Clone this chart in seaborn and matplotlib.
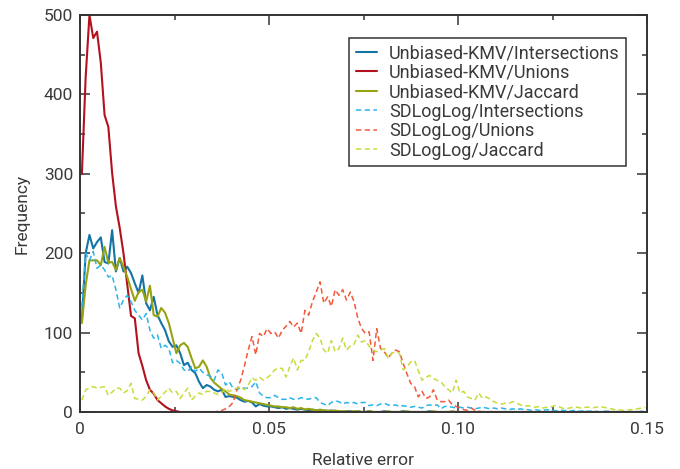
import matplotlib
matplotlib.use("Agg")
import matplotlib.pyplot as plt
from matplotlib.ticker import MultipleLocator, FixedLocator, FixedFormatter
import numpy as np
import pandas as pd
import seaborn as sns

# Histogram bin centres: 150 bins of width 0.001 over [0, 0.15]
bin_width = 0.001
n_bins = 150

kmv_intersections = [
    116, 200, 223, 206, 214, 220, 189, 187, 229, 177,
    194, 177, 183, 175, 162, 150, 172, 137, 128, 145,
    122, 112, 103, 89, 82, 84, 74, 59, 62, 53,
    49, 38, 30, 34, 32, 28, 26, 28, 19, 20,
    19, 18, 15, 13, 14, 12, 7, 10, 8, 7,
    7, 6, 5, 6, 4, 5, 4, 3, 4, 3,
    2, 3, 2, 1, 2, 1, 2, 1, 1, 0,
    1, 1, 0, 1, 0, 0, 1, 0, 0, 0,
    1, 0, 0, 0, 0, 1, 0, 0, 0, 0,
    0, 0, 1, 0, 0, 0, 0, 0, 0, 0,
    0, 0, 0, 0, 0, 0, 0, 0, 0, 0,
    0, 0, 0, 0, 0, 0, 0, 0, 0, 0,
    0, 0, 0, 0, 0, 0, 0, 0, 0, 0,
    0, 0, 0, 0, 0, 0, 0, 0, 0, 0,
    0, 0, 0, 0, 0, 0, 0, 0, 0, 0,
]

kmv_unions = [
    300, 422, 500, 471, 479, 440, 374, 359, 301, 259,
    232, 200, 160, 121, 118, 74, 58, 40, 28, 23,
    15, 11, 7, 4, 2, 1, 0, 0, 0, 0,
    0, 0, 0, 0, 0, 0, 0, 0, 0, 0,
    0, 0, 0, 0, 0, 0, 0, 0, 0, 0,
    0, 0, 0, 0, 0, 0, 0, 0, 0, 0,
    0, 0, 0, 0, 0, 0, 0, 0, 0, 0,
    0, 0, 0, 0, 0, 0, 0, 0, 0, 0,
    0, 0, 0, 0, 0, 0, 0, 0, 0, 0,
    0, 0, 0, 0, 0, 0, 0, 0, 0, 0,
    0, 0, 0, 0, 0, 0, 0, 0, 0, 0,
    0, 0, 0, 0, 0, 0, 0, 0, 0, 0,
    0, 0, 0, 0, 0, 0, 0, 0, 0, 0,
    0, 0, 0, 0, 0, 0, 0, 0, 0, 0,
    0, 0, 0, 0, 0, 0, 0, 0, 0, 0,
]

kmv_jaccard = [
    112, 160, 191, 191, 191, 185, 208, 188, 189, 179,
    194, 183, 170, 155, 140, 151, 154, 139, 159, 122,
    120, 131, 125, 112, 93, 74, 84, 87, 82, 68,
    55, 57, 65, 57, 43, 37, 33, 29, 26, 22,
    21, 20, 18, 15, 14, 13, 12, 11, 10, 9,
    8, 7, 7, 6, 6, 5, 6, 4, 5, 3,
    4, 3, 2, 3, 2, 2, 1, 2, 1, 1,
    1, 0, 1, 1, 0, 0, 1, 0, 0, 0,
    0, 1, 0, 0, 0, 0, 1, 0, 0, 0,
    0, 0, 0, 1, 0, 0, 0, 0, 1, 0,
    0, 0, 0, 0, 0, 0, 0, 0, 0, 0,
    0, 0, 0, 0, 0, 0, 0, 0, 0, 0,
    0, 0, 0, 0, 0, 1, 0, 0, 0, 0,
    0, 0, 0, 0, 0, 0, 0, 0, 0, 0,
    0, 0, 0, 0, 0, 0, 0, 0, 0, 0,
]

sdll_intersections = [
    133, 200, 191, 202, 181, 185, 179, 170, 172, 154,
    131, 141, 147, 139, 128, 122, 116, 124, 103, 93,
    97, 80, 84, 80, 62, 65, 61, 53, 51, 57,
    51, 55, 50, 47, 45, 40, 53, 49, 34, 38,
    30, 28, 31, 30, 30, 32, 38, 24, 20, 18,
    18, 21, 18, 16, 16, 18, 16, 16, 18, 17,
    16, 18, 18, 12, 10, 8, 12, 14, 13, 10,
    12, 11, 12, 10, 12, 12, 8, 9, 8, 10,
    11, 9, 8, 9, 7, 8, 7, 6, 7, 6,
    5, 8, 9, 8, 9, 4, 7, 7, 6, 5,
    6, 5, 6, 5, 4, 5, 6, 5, 4, 5,
    4, 5, 4, 3, 4, 3, 4, 3, 3, 2,
    3, 2, 2, 3, 2, 2, 1, 2, 2, 1,
    2, 1, 1, 2, 1, 1, 1, 0, 1, 1,
    1, 0, 1, 1, 0, 1, 0, 0, 1, 0,
]

sdll_unions = [
    0, 0, 0, 0, 0, 0, 0, 0, 0, 0,
    0, 0, 0, 0, 0, 0, 0, 0, 0, 0,
    0, 0, 0, 0, 0, 0, 0, 0, 0, 0,
    0, 0, 0, 0, 0, 0, 1, 2, 4, 7,
    12, 28, 40, 58, 78, 95, 72, 99, 95, 105,
    99, 101, 93, 103, 108, 114, 107, 112, 99, 128,
    122, 139, 151, 164, 137, 145, 133, 154, 147, 154,
    141, 151, 139, 118, 105, 99, 101, 65, 105, 80,
    76, 68, 74, 78, 76, 61, 48, 36, 32, 19,
    26, 17, 19, 28, 15, 13, 13, 15, 9, 7,
    5, 3, 2, 5, 2, 1, 0, 0, 0, 0,
    0, 0, 0, 0, 0, 0, 0, 0, 0, 0,
    0, 0, 0, 0, 0, 0, 0, 0, 0, 0,
    0, 0, 0, 0, 0, 0, 0, 0, 0, 0,
    0, 0, 0, 0, 0, 0, 0, 0, 0, 0,
]

sdll_jaccard = [
    15, 28, 30, 32, 30, 31, 32, 21, 25, 30,
    30, 24, 27, 36, 17, 16, 15, 20, 28, 24,
    15, 20, 25, 30, 24, 26, 17, 24, 30, 15,
    20, 24, 22, 26, 26, 24, 22, 24, 30, 26,
    28, 30, 32, 28, 34, 43, 40, 44, 40, 43,
    47, 53, 55, 55, 44, 57, 68, 53, 65, 65,
    76, 90, 99, 93, 78, 74, 90, 76, 80, 93,
    78, 83, 85, 97, 88, 90, 83, 78, 76, 78,
    80, 68, 74, 76, 74, 53, 57, 63, 65, 52,
    40, 44, 46, 42, 40, 38, 32, 28, 24, 40,
    24, 26, 19, 17, 15, 24, 17, 19, 16, 13,
    11, 10, 11, 11, 13, 11, 9, 7, 8, 7,
    6, 7, 5, 6, 6, 8, 7, 5, 4, 5,
    6, 6, 5, 6, 6, 5, 6, 7, 6, 5,
    4, 3, 3, 2, 2, 3, 3, 4, 5, 6,
]

series_names = [
    "Unbiased-KMV/Intersections",
    "Unbiased-KMV/Unions",
    "Unbiased-KMV/Jaccard",
    "SDLogLog/Intersections",
    "SDLogLog/Unions",
    "SDLogLog/Jaccard",
]
series_values = [
    kmv_intersections, kmv_unions, kmv_jaccard,
    sdll_intersections, sdll_unions, sdll_jaccard,
]
series_colors = ["#1474a6", "#b3111d", "#97a312", "#2ab4ea", "#f2583a", "#c9db3a"]
series_solid = [True, True, True, False, False, False]

x_tick_values = [0, 0.05, 0.10, 0.15]
x_tick_labels = ["0", "0.05", "0.10", "0.15"]

bin_centres = (np.arange(n_bins) + 0.5) * bin_width

sns.set_style("ticks")
plt.rcParams["font.family"] = ["Roboto", "DejaVu Sans"]
text_color = "#3a3a3a"

fig = plt.figure(figsize=(6.8, 4.69), dpi=100)
ax = fig.add_axes([80 / 680, 1 - 412 / 469, 567 / 680, 397 / 469])

for name, vals, col, solid in zip(series_names, series_values, series_colors, series_solid):
    df = pd.DataFrame({"err": bin_centres, "freq": vals})
    if solid:
        sns.lineplot(data=df, x="err", y="freq", ax=ax, color=col, lw=1.5,
                     label=name, linestyle="-")
    else:
        sns.lineplot(data=df, x="err", y="freq", ax=ax, color=col, lw=1.1,
                     label=name, linestyle=(0, (3.5, 2.2)))

ax.set_xlim(0, 0.15)
ax.set_ylim(0, 500)
ax.xaxis.set_major_locator(FixedLocator(x_tick_values))
ax.xaxis.set_major_formatter(FixedFormatter(x_tick_labels))
ax.xaxis.set_minor_locator(MultipleLocator(0.025))
ax.yaxis.set_major_locator(MultipleLocator(100))
ax.yaxis.set_minor_locator(MultipleLocator(50))

ax.tick_params(which="both", direction="in", top=True, right=True,
               color="#333333", width=1.1, labelsize=12.5, labelcolor=text_color)
ax.tick_params(which="major", length=7)
ax.tick_params(which="minor", length=3.8)
ax.tick_params(axis="y", pad=5)
ax.tick_params(axis="x", pad=7)

for sp in ax.spines.values():
    sp.set_visible(True)
    sp.set_color("#333333")
    sp.set_linewidth(1.4)

ax.set_xlabel("Relative error", fontsize=12.5, color=text_color, labelpad=12)
ax.set_ylabel("Frequency", fontsize=12.5, color=text_color, labelpad=10)

leg = ax.legend(loc="upper right", bbox_to_anchor=(0.963, 0.942), borderaxespad=0,
                fontsize=13, frameon=True, fancybox=False, framealpha=1,
                edgecolor="#333333", handlelength=1.2, handletextpad=0.65,
                labelspacing=0.08, borderpad=0.35)
leg.get_frame().set_linewidth(1.1)
for t in leg.get_texts():
    t.set_color(text_color)

fig.savefig("out.png", dpi=100)
